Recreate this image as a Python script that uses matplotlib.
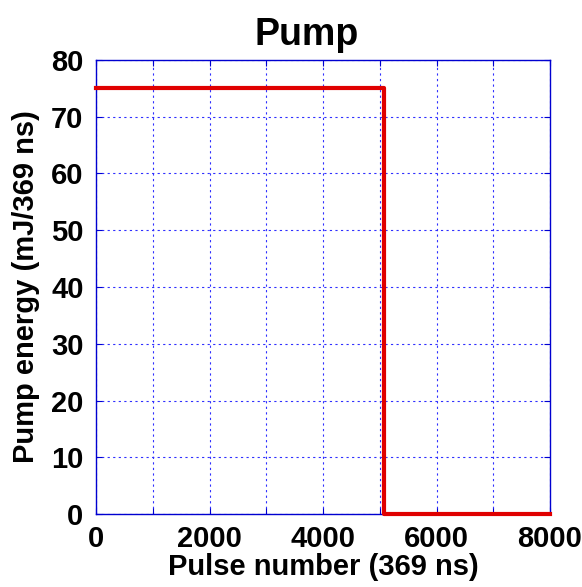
import matplotlib.pyplot as plt
import numpy as np

# pump energy per pulse (step)
pulse = [0, 5080, 5080, 8000]
energy = [75, 75, 0, 0]
xticks = [0, 1000, 2000, 3000, 4000, 5000, 6000, 7000, 8000]
xticklabels = ['0', '', '2000', '', '4000', '', '6000', '', '8000']
yticks = [0, 10, 20, 30, 40, 50, 60, 70, 80]

plt.rcParams['font.family'] = ['Liberation Sans', 'DejaVu Sans']
plt.rcParams['font.weight'] = 'bold'

fig = plt.figure(figsize=(5.82, 5.87), dpi=100)
ax = fig.add_axes([96 / 582, 1 - 514 / 587, 454 / 582, 454 / 587])

ax.plot(pulse, energy, color='#e00000', lw=3, zorder=3, clip_on=False)

ax.set_xlim(0, 8000)
ax.set_ylim(0, 80)
ax.set_xticks(xticks)
ax.set_xticklabels(xticklabels)
ax.set_yticks(yticks)
ax.grid(True, color='#3030ff', linestyle=(0, (2, 3)), lw=0.8)
for s in ax.spines.values():
    s.set_color('#0000d0')
    s.set_linewidth(1)
ax.tick_params(direction='in', colors='#0000d0', labelcolor='black',
               labelsize=21, length=4, top=True, right=True)
ax.tick_params(axis='x', pad=8)
ax.tick_params(axis='y', pad=9)
for lab in ax.get_xticklabels() + ax.get_yticklabels():
    lab.set_fontweight('bold')

ax.set_title('Pump', fontsize=27, fontweight='bold', pad=11, x=0.464)
ax.set_xlabel('Pulse number (369 ns)', fontsize=21, fontweight='bold', labelpad=0)
ax.set_ylabel('Pump energy (mJ/369 ns)', fontsize=21, fontweight='bold', labelpad=8)

fig.savefig('out.png', dpi=100)
